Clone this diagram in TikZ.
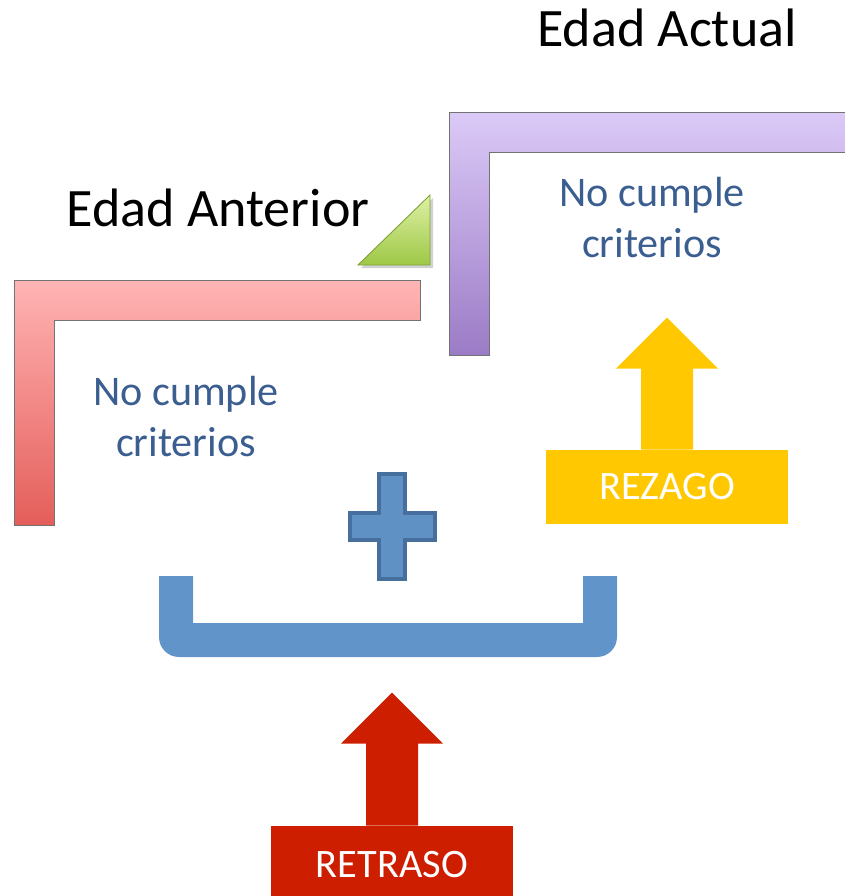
\documentclass[tikz,border=0pt]{standalone}
\usepackage{fontspec}
\setmainfont{Carlito}
\usepackage{tikz}

\definecolor{rosaclaro}{RGB}{255,180,180}
\definecolor{rosaoscuro}{RGB}{228,94,90}
\definecolor{lilaclaro}{RGB}{219,202,247}
\definecolor{lilaoscuro}{RGB}{155,123,198}
\definecolor{verdeclaro}{RGB}{222,240,165}
\definecolor{verdeoscuro}{RGB}{158,200,70}
\definecolor{textoazul}{RGB}{59,94,145}
\definecolor{azulcruz}{RGB}{95,145,197}
\definecolor{azulborde}{RGB}{70,111,157}
\definecolor{azulllave}{RGB}{97,148,200}
\definecolor{amarillo}{RGB}{255,200,0}
\definecolor{rojo}{RGB}{205,30,0}

\begin{document}
\begin{tikzpicture}[x=0.02cm, y=-0.02cm,
    titulo/.style={anchor=base, font=\fontsize{30.8}{36}\selectfont},
    criterio/.style={anchor=base, align=center, text=textoazul,
      font=\fontsize{24}{29}\selectfont},
    caja/.style={inner sep=0pt, minimum width=4.84cm, text=white,
      font=\fontsize{23}{27}\selectfont}]
        \useasboundingbox (0,0) rectangle (845,896);

        % edad anterior
        \shadedraw [top color=rosaclaro, bottom color=rosaoscuro, draw=black!55, line width=0.4pt]
          (14,280) -- (420,280) -- (420,320) -- (54,320) -- (54,525) -- (14,525) -- cycle;
        \node [titulo] (edadant) at (218,226) {Edad Anterior};
        \node [criterio] (critant) at (186,456) {No cumple\\criterios};

        \fill [black, opacity=0.18] (361,268) -- (433,198) -- (433,268) -- cycle;
        \shadedraw [top color=verdeclaro, bottom color=verdeoscuro, draw=verdeoscuro!80!black, line width=0.5pt]
          (358,265) -- (430,195) -- (430,265) -- cycle;

        % edad actual
        \shadedraw [top color=lilaclaro, bottom color=lilaoscuro, draw=black!55, line width=0.4pt]
          (449,112) -- (846,112) -- (846,152) -- (489,152) -- (489,355) -- (449,355) -- cycle;
        \node [titulo] (edadact) at (667,46) {Edad Actual};
        \node [criterio] (critact) at (652,257) {No cumple\\criterios};

        \filldraw [fill=azulcruz, draw=azulborde, line width=2.6pt]
          (379,474) -- (405,474) -- (405,513) -- (435,513) -- (435,540) -- (405,540)
          -- (405,579) -- (379,579) -- (379,540) -- (350,540) -- (350,513) -- (379,513) -- cycle;

        \fill [azulllave] (159,576) -- (193,576) -- (193,623) -- (583,623) -- (583,576) -- (617,576)
          [rounded corners=0.4cm] -- (617,657) -- (159,657) [sharp corners] -- cycle;

        % flechas
        \node [caja, fill=amarillo, minimum height=1.48cm] (rezago) at (667,487) {REZAGO};
        \fill [amarillo] ([xshift=-0.52cm]rezago.north) -- ++(0,-81) -- ++(-25,0) -- ++(51,-51)
          -- ++(51,51) -- ++(-25,0) -- ++(0,81) -- cycle;

        \node [caja, fill=rojo, minimum height=1.56cm] (retraso) at (392,865) {RETRASO};
        \fill [rojo] ([xshift=-0.52cm]retraso.north) -- ++(0,-82) -- ++(-25,0) -- ++(51,-51)
          -- ++(51,51) -- ++(-25,0) -- ++(0,82) -- cycle;
    \end{tikzpicture}
\end{document}
